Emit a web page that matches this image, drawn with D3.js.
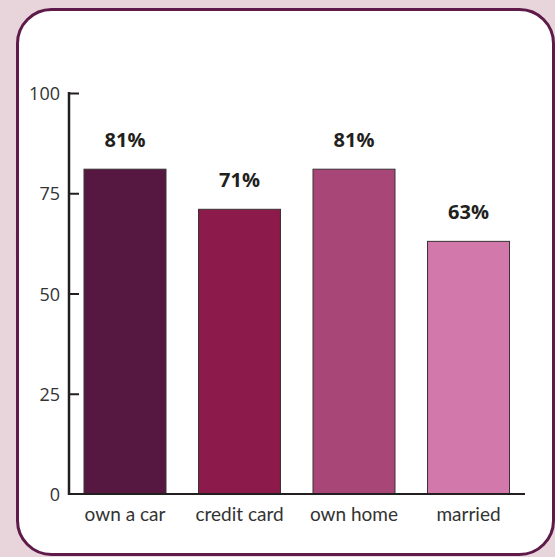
<!DOCTYPE html>
<meta charset="utf-8">
<head>
<title>Bar chart</title>
<script src="https://d3js.org/d3.v7.min.js"></script>
<style>
  body { margin: 0; background: #e8d5dc; }
  text { font-family: Lato, "Open Sans", sans-serif; fill: #231f20; }
  .num { font-family: "Open Sans", sans-serif; }
</style>
</head>
<body>
<div id="chart"></div>
<script>
    let categories = ["own a car", "credit card", "own home", "married"];
    let values = [81, 71, 81, 63];
    let colors = ["#561840", "#8c1a4b", "#a84677", "#d278aa"];
    let yTicks = [0, 25, 50, 75, 100];

    let w = 555;
    let h = 557;

    let svg = d3.select("#chart")
                .append("svg")
                .attr("width", w)
                .attr("height", h)

    // white panel with rounded corners
    svg.append("rect")
       .attr("x", 17.5)
       .attr("y", 9.5)
       .attr("width", 536)
       .attr("height", 545)
       .attr("rx", 34)
       .attr("ry", 34)
       .style("fill", "white")
       .style("stroke", "#5e1a48")
       .style("stroke-width", 3)

    let x = d3.scaleBand()
              .domain(categories)
              .range([69, 524.5])
              .paddingInner(0.284)
              .paddingOuter(0.131)

    let y = d3.scaleLinear()
              .domain([0, 100])
              .range([494, 93])

    svg.selectAll(".bar")
       .data(values)
       .enter()
       .append("rect")
       .attr("class", "bar")
       .attr("x", (d, i) => x(categories[i]))
       .attr("y", (d) => y(d))
       .attr("width", x.bandwidth())
       .attr("height", (d) => y(0) - y(d))
       .style("fill", (d, i) => colors[i])
       .style("stroke", "#3a3236")
       .style("stroke-width", 1)

    svg.selectAll(".val")
       .data(values)
       .enter()
       .append("text")
       .attr("class", "val num")
       .attr("x", (d, i) => x(categories[i]) + x.bandwidth() / 2)
       .attr("y", (d) => y(d) - 22)
       .attr("text-anchor", "middle")
       .style("font-size", "20px")
       .style("font-weight", "bold")
       .text((d) => d + "%")

    // y axis
    let yAxis = d3.axisRight(y)
                  .tickValues(yTicks)
                  .tickSize(10)
                  .tickFormat("")
    let ga = svg.append("g")
                .attr("transform", "translate(69,0)")
                .call(yAxis)
    ga.select(".domain").remove()
    ga.selectAll("line").style("stroke", "#231f20").style("stroke-width", 2)
    ga.selectAll(".tick").filter((d) => d === 0).remove()

    svg.append("line")
       .attr("x1", 69).attr("x2", 69)
       .attr("y1", y(100) - 1).attr("y2", y(0) + 1)
       .style("stroke", "#231f20")
       .style("stroke-width", 2.5)

    svg.selectAll(".ytl")
       .data(yTicks)
       .enter()
       .append("text")
       .attr("class", "ytl num")
       .attr("x", 60)
       .attr("y", (d) => y(d) + 7)
       .attr("text-anchor", "end")
       .style("font-size", "18px")
       .style("fill", "#333")
       .text((d) => d)

    // x baseline
    svg.append("line")
       .attr("x1", 68).attr("x2", 525)
       .attr("y1", y(0)).attr("y2", y(0))
       .style("stroke", "#231f20")
       .style("stroke-width", 2)

    svg.selectAll(".xtl")
       .data(categories)
       .enter()
       .append("text")
       .attr("class", "xtl")
       .attr("x", (d) => x(d) + x.bandwidth() / 2)
       .attr("y", 521)
       .attr("text-anchor", "middle")
       .style("font-size", "19px")
       .style("fill", "#333")
       .text((d) => d)
</script>
</body>
